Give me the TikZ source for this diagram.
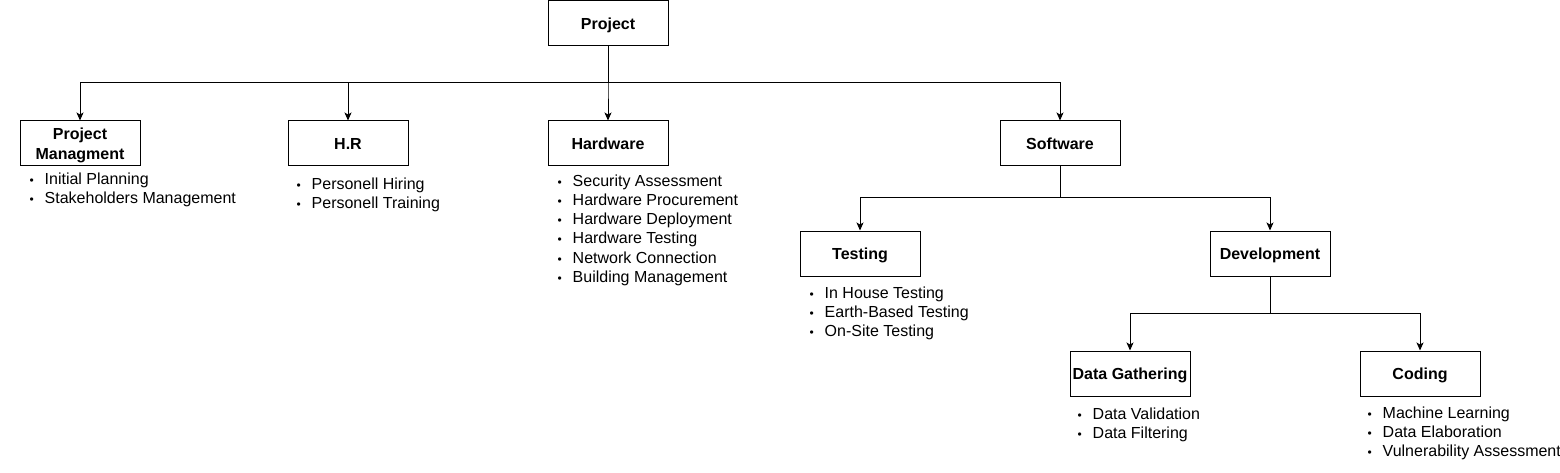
\documentclass[tikz,border=0pt]{standalone}
\usepackage{fontspec}
\setmainfont{Liberation Sans}
\usepackage{tikz}
\usetikzlibrary{arrows.meta,positioning}
\definecolor{Ink}{HTML}{000000}
\newcommand\bul{\makebox[15pt][l]{\fontsize{12}{12}\selectfont\textbullet}}

\begin{document}
\begin{tikzpicture}[x=1pt,y=-1pt,
  box/.style={draw=Ink,line width=1pt,minimum width=120pt,minimum height=45pt,
    align=center,inner sep=2pt,text height=14.5pt,text depth=3.4pt,
    font=\fontsize{16}{20}\selectfont\bfseries},
  items/.style={align=left,inner sep=0pt,font=\fontsize{16}{19.2}\selectfont},
  arr/.style={draw=Ink,line width=1pt,-{Stealth[length=8pt,width=7pt,inset=2pt]}}]
  \useasboundingbox (0,0) rectangle (1560,473);
  % boxes
  \node[box] (proj) at (608,23.5) {Project};
  \node[box,text height=34.5pt] (pm) at (80,143.5) {Project\\Managment};
  \node[box] (hr) at (348,143.5) {H.R};
  \node[box] (hw) at (608,143.5) {Hardware};
  \node[box] (sw) at (1060,143.5) {Software};
  \node[box] (test) at (860,253.5) {Testing};
  \node[box] (dev) at (1270,253.5) {Development};
  \node[box] (dg) at (1130,373.5) {Data Gathering};
  \node[box] (cod) at (1420,373.5) {Coding};
  % bullet lists
  \node[items,below right=6pt and 10pt of pm.south west] (pmList)
    {\bul Initial Planning\\\bul Stakeholders Management};
  \node[items,below right=11pt and 9pt of hr.south west] (hrList)
    {\bul Personell Hiring\\\bul Personell Training};
  \node[items,below right=8pt and 10pt of hw.south west] (hwList)
    {\bul Security Assessment\\\bul Hardware Procurement\\\bul Hardware Deployment\\
     \bul Hardware Testing\\\bul Network Connection\\\bul Building Management};
  \node[items,below right=10pt and 10pt of test.south west] (testList)
    {\bul In House Testing\\\bul Earth-Based Testing\\\bul On-Site Testing};
  \node[items,below right=11pt and 8pt of dg.south west] (dgList)
    {\bul Data Validation\\\bul Data Filtering};
  \node[items,below right=10pt and 8pt of cod.south west] (codList)
    {\bul Machine Learning\\\bul Data Elaboration\\\bul Vulnerability Assessment};
  % connectors
  \coordinate (bus) at (608,83);
  \coordinate (swBus) at (1060,198);
  \coordinate (devBus) at (1270,313);
  \foreach \c in {pm,hr,hw,sw}
    \draw[arr] (proj.south) -- (bus) -| (\c.north);
  \foreach \c in {test,dev}
    \draw[arr] (sw.south) -- (swBus) -| (\c.north);
  \foreach \c in {dg,cod}
    \draw[arr] (dev.south) -- (devBus) -| (\c.north);
\end{tikzpicture}
\end{document}
